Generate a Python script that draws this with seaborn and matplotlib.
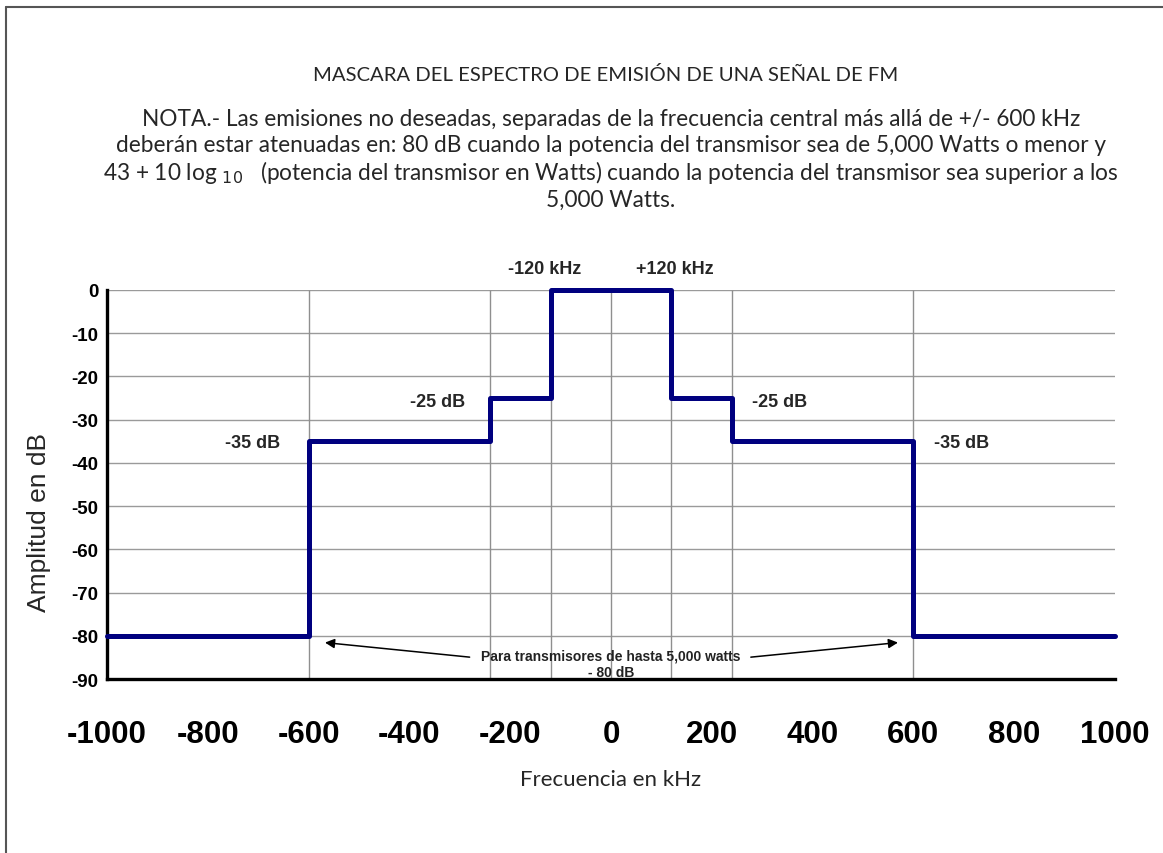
import matplotlib
matplotlib.use('Agg')
import matplotlib.pyplot as plt
import seaborn as sns
from matplotlib.lines import Line2D

# mask break points (kHz) and level from each point onwards (dB)
freq_khz = [-1000, -600, -240, -120, 120, 240, 600, 1000]
amp_db = [-80, -35, -25, 0, -25, -35, -80, -80]
edges_khz = [-600, -240, -120, 0, 120, 240, 600]

x_ticks = list(range(-1000, 1001, 200))
y_ticks = list(range(-90, 1, 10))

title = 'MASCARA DEL ESPECTRO DE EMISIÓN DE UNA SEÑAL DE FM'
note_lines = [
    'NOTA.- Las emisiones no deseadas, separadas de la frecuencia central más allá de +/- 600 kHz',
    'deberán estar atenuadas en: 80 dB cuando la potencia del transmisor sea de 5,000 Watts o menor y',
    r'43 + 10 log $_{10}$   (potencia del transmisor en Watts) cuando la potencia del transmisor sea superior a los',
    '5,000 Watts.',
]

sns.set_style('white')
plt.rcParams['font.family'] = ['Liberation Sans', 'DejaVu Sans']
plt.rcParams['axes.unicode_minus'] = False

fig = plt.figure(figsize=(11.63, 8.54), dpi=100)
ax = fig.add_axes([0.092, 0.2037, 0.8667, 0.4556])

sns.lineplot(x=freq_khz, y=amp_db, drawstyle='steps-post', color='#00007f',
             lw=3.6, estimator=None, sort=False, ax=ax)
ax.lines[-1].set_clip_on(False)
ax.lines[-1].set_zorder(5)

ax.vlines(edges_khz, -90, 0, color='#8f8f8f', lw=1.0, zorder=1)

ax.set_xlim(-1000, 1000)
ax.set_ylim(-90, 0)
ax.set_xticks(x_ticks)
ax.set_yticks(y_ticks)
ax.yaxis.grid(True, color='#9a9a9a', lw=1.0)
ax.xaxis.grid(False)

for side in ['top', 'right']:
    ax.spines[side].set_visible(False)
for side in ['left', 'bottom']:
    ax.spines[side].set_color('black')
    ax.spines[side].set_linewidth(2.4)

ax.tick_params(axis='x', direction='out', length=6, width=2.4, pad=23,
               labelsize=22.5, colors='black')
ax.tick_params(axis='y', direction='out', length=5, width=2.0, pad=1,
               labelsize=13.5, colors='black')
for lab in ax.get_xticklabels() + ax.get_yticklabels():
    lab.set_fontweight('bold')

ax.set_ylabel('Amplitud en dB', fontsize=19)
ax.yaxis.set_label_coords(-0.056, 0.405)
ax.set_xlabel('Frecuencia en kHz', fontsize=16, family=['Lato', 'DejaVu Sans'],
              labelpad=14)

# level labels
lbl = dict(fontsize=13, fontweight='bold', ha='center', va='center')
ax.text(-131, 4.9, '-120 kHz', **lbl)
ax.text(127, 4.9, '+120 kHz', **lbl)
ax.text(-345, -25.7, '-25 dB', **lbl)
ax.text(335, -25.7, '-25 dB', **lbl)
ax.text(-712, -35.2, '-35 dB', **lbl)
ax.text(696, -35.2, '-35 dB', **lbl)

ax.text(0, -86.5, 'Para transmisores de hasta 5,000 watts\n- 80 dB', fontsize=10,
        fontweight='bold', ha='center', va='center', color='#222222',
        linespacing=1.2)
arrow = dict(arrowstyle='-|>', color='black', lw=1.1, mutation_scale=14)
ax.annotate('', xy=(-573, -81.5), xytext=(-275, -85.0), arrowprops=arrow)
ax.annotate('', xy=(575, -81.5), xytext=(272, -85.0), arrowprops=arrow)

# header text
fig.text(606 / 1163, 1 - 75 / 854, title, fontsize=14.6, ha='center', va='center',
         family=['Lato', 'DejaVu Sans'])
for i, line in enumerate(note_lines):
    fig.text(611 / 1163, 1 - (119 + 27 * i) / 854, line, fontsize=16.3, ha='center',
             va='center', family=['Lato', 'DejaVu Sans'])

# outer frame (left and top edges)
fig.add_artist(Line2D([6 / 1163, 6 / 1163], [0, 1 - 8 / 854], color='#555555', lw=1.5))
fig.add_artist(Line2D([6 / 1163, 1], [1 - 8 / 854, 1 - 8 / 854], color='#555555', lw=1.5))

fig.savefig('out.png', dpi=100, facecolor='white')
